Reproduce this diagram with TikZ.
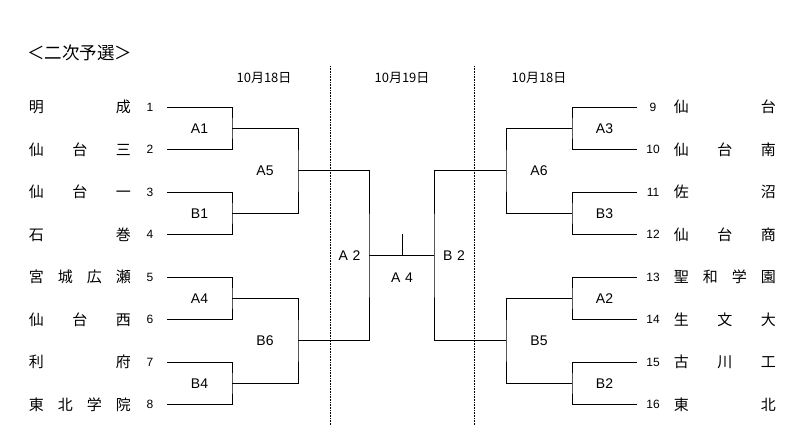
\documentclass[tikz,border=0pt]{standalone}
\usepackage{fontspec}
\setmainfont{Liberation Sans}
\newfontfamily\jp{Noto Sans CJK JP}

\begin{document}
\begin{tikzpicture}[x=1pt,y=-1pt,line width=0.8pt,
  team/.style={anchor=west,inner sep=0pt,font=\jp\fontsize{15}{15}\selectfont},
  num/.style={inner sep=0pt,font=\fontsize{12}{12}\selectfont},
  game/.style={inner sep=0pt,font=\fontsize{14}{14}\selectfont},
  day/.style={inner sep=0pt,font=\jp\fontsize{13}{13}\selectfont}]
\useasboundingbox (0,0) rectangle (800,425);
\node[anchor=west,inner sep=0pt,font=\jp\fontsize{17.5}{17.5}\selectfont] (title) at (27,53) {＜二次予選＞};
\node[day] (d1) at (264,78) {10月18日};
\node[day] (d2) at (402,78) {10月19日};
\node[day] (d3) at (539,78) {10月18日};
\draw[densely dotted,line width=0.6pt] (330,66) -- (330,425);
\draw[densely dotted,line width=0.6pt] (474,66) -- (474,425);
\foreach \i/\name in {1/明\hfill 成,2/仙\hfill 台\hfill 三,3/仙\hfill 台\hfill 一,4/石\hfill 巻,
    5/宮\hfill 城\hfill 広\hfill 瀬,6/仙\hfill 台\hfill 西,7/利\hfill 府,8/東\hfill 北\hfill 学\hfill 院} {
  \node[team] (t\i) at (28.5,{107+(\i-1)*42.5}) {\makebox[102pt]{\name}};
  \node[num] (n\i) at (150,{107+(\i-1)*42.5}) {\i};
  \coordinate (p\i) at (167,{107+(\i-1)*42.5});
}
\foreach \i/\name in {9/仙\hfill 台,10/仙\hfill 台\hfill 南,11/佐\hfill 沼,12/仙\hfill 台\hfill 商,
    13/聖\hfill 和\hfill 学\hfill 園,14/生\hfill 文\hfill 大,15/古\hfill 川\hfill 工,16/東\hfill 北} {
  \node[team] (t\i) at (673.5,{107+(\i-9)*42.5}) {\makebox[102pt]{\name}};
  \node[num] (n\i) at (653,{107+(\i-9)*42.5}) {\i};
  \coordinate (p\i) at (637,{107+(\i-9)*42.5});
}
\coordinate (wA1) at (232,128.25);
\coordinate (wB1) at (232,213.25);
\coordinate (wA4) at (232,298.25);
\coordinate (wB4) at (232,383.25);
\coordinate (wA5) at (298,170.75);
\coordinate (wB6) at (298,340.75);
\coordinate (cA2) at (369,255.75);
\coordinate (cB2) at (434,255.75);
\coordinate (cA4) at (402,255.75);
\coordinate (top) at (402,234);
\coordinate (wA3) at (572,128.25);
\coordinate (wB3) at (572,213.25);
\coordinate (wA2) at (572,298.25);
\coordinate (wB2) at (572,383.25);
\coordinate (wA6) at (506,170.75);
\coordinate (wB5) at (506,340.75);
\draw (p1) -| (wA1) |- (p2);
\draw (p3) -| (wB1) |- (p4);
\draw (p5) -| (wA4) |- (p6);
\draw (p7) -| (wB4) |- (p8);
\draw (wA1) -| (wA5) |- (wB1);
\draw (wA4) -| (wB6) |- (wB4);
\draw (wA5) -| (cA2) |- (wB6);
\draw (cA2) -- (cB2);
\draw (cA4) -- (top);
\draw (wA6) -| (cB2) |- (wB5);
\draw (wA3) -| (wA6) |- (wB3);
\draw (wA2) -| (wB5) |- (wB2);
\draw (p9) -| (wA3) |- (p10);
\draw (p11) -| (wB3) |- (p12);
\draw (p13) -| (wA2) |- (p14);
\draw (p15) -| (wB2) |- (p16);
\node[game] (gA1) at (199.5,128.25) {A1};
\node[game] (gB1) at (199.5,213.25) {B1};
\node[game] (gA4) at (199.5,298.25) {A4};
\node[game] (gB4) at (199.5,383.25) {B4};
\node[game] (gA5) at (265,170.75) {A5};
\node[game] (gB6) at (265,340.75) {B6};
\node[game] (gA2) at (349.5,255.75) {A\,\,2};
\node[game] (gAf) at (402,277.5) {A\,\,4};
\node[game] (gB2) at (454,255.75) {B\,\,2};
\node[game] (gA6) at (539,170.75) {A6};
\node[game] (gB5) at (539,340.75) {B5};
\node[game] (gA3) at (604.5,128.25) {A3};
\node[game] (gB3) at (604.5,213.25) {B3};
\node[game] (gA2r) at (604.5,298.25) {A2};
\node[game] (gB2r) at (604.5,383.25) {B2};
\end{tikzpicture}
\end{document}
